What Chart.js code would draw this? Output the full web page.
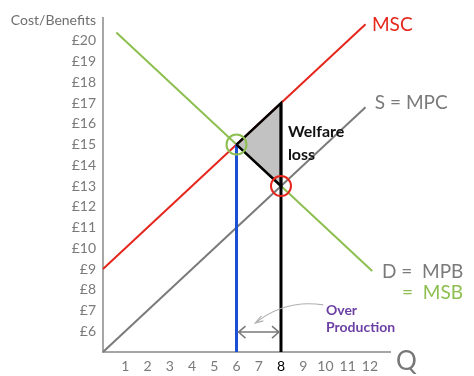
<!DOCTYPE html>
<html>
<head>
<meta charset="utf-8">
<script src="https://cdn.jsdelivr.net/npm/chart.js@4.4.1/dist/chart.umd.min.js"></script>
<style>
  html, body { margin: 0; padding: 0; background: #fff; }
  #wrap { width: 474px; height: 376px; }
</style>
</head>
<body>
<div id="wrap"><canvas id="welfareChart"></canvas></div>
<script>
// --- Data ---
const qTicks = [1, 2, 3, 4, 5, 6, 7, 8, 9, 10, 11, 12]
const priceTicks = [6, 7, 8, 9, 10, 11, 12, 13, 14, 15, 16, 17, 18, 19, 20]

const mscQ = [0, 11.8]
const mscP = [9, 20.8]
const mpcQ = [0, 11.8]
const mpcP = [5, 16.8]
const mpbQ = [0.6, 12.1]
const mpbP = [20.4, 8.9]

const socialQ = 6
const socialP = 15
const marketQ = 8
const marketP = 13
const marketMsc = 17

const lossQ = [6, 8, 8, 6]
const lossP = [15, 17, 13, 15]

const toPoints = (xs, ys) => xs.map((x, i) => ({ x: x, y: ys[i] }))

const FONT = 'Lato, "Open Sans", sans-serif'
const GREY = '#7a7a7a'
const RED = '#e5261d'
const GREEN = '#8cbf4f'
const BLUE = '#1b4fd4'
const PURPLE = '#6c3fa3'

// fill the welfare loss triangle under its outline
const lossFillPlugin = {
  id: 'lossFill',
  beforeDatasetsDraw(chart) {
    const meta = chart.getDatasetMeta(0)
    const pts = meta.data
    const ctx = chart.ctx
    ctx.save()
    ctx.beginPath()
    pts.forEach((p, i) => (i === 0 ? ctx.moveTo(p.x, p.y) : ctx.lineTo(p.x, p.y)))
    ctx.closePath()
    ctx.fillStyle = '#c2c2c2'
    ctx.fill()
    ctx.restore()
  }
}

// text labels and the over production arrows
const labelsPlugin = {
  id: 'diagramLabels',
  afterDraw(chart) {
    const ctx = chart.ctx
    const xs = chart.scales.x
    const ys = chart.scales.y
    const px = (v) => xs.getPixelForValue(v)
    const py = (v) => ys.getPixelForValue(v)
    const area = chart.chartArea

    const text = (str, x, y, color, size, weight, align) => {
      ctx.font = (weight || 'normal') + ' ' + size + 'px ' + FONT
      ctx.fillStyle = color
      ctx.textAlign = align || 'left'
      ctx.textBaseline = 'middle'
      ctx.fillText(str, x, y)
    }

    ctx.save()
    text('Cost/Benefits', area.left - 7, area.top + 2, '#6e6e6e', 14, 'normal', 'right')
    text('Q', area.right + 6, area.bottom + 10, '#777', 26)

    text('MSC', px(12.09), py(20.76), RED, 19)
    text('S = MPC', px(12.22), py(17.0), GREY, 19)
    text('Welfare', px(8.31), py(15.6), '#111', 16, 'bold')
    text('loss', px(8.31), py(14.49), '#111', 16, 'bold')
    text('D =  MPB', px(12.54), py(8.86), GREY, 19)
    text('=  MSB', px(13.44), py(7.84), GREEN, 19)
    text('Over', px(10.02), py(7.02), PURPLE, 14, 'bold')
    text('Production', px(10.02), py(6.2), PURPLE, 14, 'bold')

    // double headed arrow between the two quantities
    const ay = py(5.96)
    const ax1 = px(socialQ) + 2
    const ax2 = px(marketQ) - 2
    ctx.strokeStyle = '#7a7a7a'
    ctx.lineWidth = 1.5
    ctx.beginPath()
    ctx.moveTo(ax1, ay)
    ctx.lineTo(ax2, ay)
    ctx.moveTo(ax1 + 7, ay - 6)
    ctx.lineTo(ax1, ay)
    ctx.lineTo(ax1 + 7, ay + 6)
    ctx.moveTo(ax2 - 7, ay - 6)
    ctx.lineTo(ax2, ay)
    ctx.lineTo(ax2 - 7, ay + 6)
    ctx.stroke()

    // curved pointer from the label
    const sx = px(9.9)
    const sy = py(7.27)
    const ex = px(6.85)
    const ey = py(6.4)
    ctx.strokeStyle = '#b0b0b0'
    ctx.lineWidth = 1.2
    ctx.beginPath()
    ctx.moveTo(sx, sy)
    ctx.quadraticCurveTo(px(8.2), py(7.55), ex, ey)
    ctx.stroke()
    ctx.beginPath()
    ctx.moveTo(ex + 8, ey - 2)
    ctx.lineTo(ex, ey)
    ctx.lineTo(ex + 6, ey - 7)
    ctx.stroke()
    ctx.restore()
  }
}

const lineSet = (data, color, width, order) => ({
  data: data,
  showLine: true,
  borderColor: color,
  borderWidth: width,
  pointRadius: 0,
  fill: false,
  clip: false,
  order: order
})

const circleSet = (x, y, color) => ({
  data: [{ x: x, y: y }],
  showLine: false,
  pointRadius: 10,
  pointBorderWidth: 2,
  pointBorderColor: color,
  pointBackgroundColor: 'rgba(0,0,0,0)',
  clip: false,
  order: 0
})

new Chart(document.getElementById('welfareChart'), {
  type: 'scatter',
  data: {
    datasets: [
      lineSet(toPoints(lossQ, lossP), '#000', 2.5, 1),
      lineSet(toPoints(mscQ, mscP), RED, 2, 5),
      lineSet(toPoints(mpcQ, mpcP), GREY, 2, 5),
      lineSet(toPoints(mpbQ, mpbP), GREEN, 2, 5),
      lineSet(toPoints([socialQ, socialQ], [5, socialP]), BLUE, 3, 2),
      lineSet(toPoints([marketQ, marketQ], [5, marketMsc]), '#000', 3, 2),
      circleSet(socialQ, socialP, GREEN),
      circleSet(marketQ, marketP, RED)
    ]
  },
  options: {
    responsive: true,
    maintainAspectRatio: false,
    animation: false,
    layout: {
      padding: { top: 18, right: 84, left: 0, bottom: 0 }
    },
    plugins: {
      legend: { display: false },
      tooltip: { enabled: false }
    },
    scales: {
      x: {
        type: 'linear',
        min: 0,
        max: 12.9,
        grid: { display: false, drawTicks: false },
        border: { display: true, color: '#a6a6a6', width: 2 },
        afterBuildTicks: (s) => {
          s.ticks = qTicks.map((v) => ({ value: v }))
        },
        afterFit: (s) => {
          s.height = 24
        },
        ticks: {
          padding: 6,
          autoSkip: false,
          maxRotation: 0,
          font: { family: FONT, size: 14 },
          color: (c) => (c.tick && c.tick.value === marketQ ? '#000' : GREY)
        }
      },
      y: {
        type: 'linear',
        min: 5,
        max: 21.1,
        grid: { display: false, drawTicks: false },
        border: { display: true, color: '#a6a6a6', width: 2 },
        afterBuildTicks: (s) => {
          s.ticks = priceTicks.map((v) => ({ value: v }))
        },
        afterFit: (s) => {
          s.width = 103
        },
        ticks: {
          padding: 7,
          autoSkip: false,
          font: { family: FONT, size: 14 },
          color: GREY,
          callback: (v) => '£' + v
        }
      }
    }
  },
  plugins: [lossFillPlugin, labelsPlugin]
})
</script>
</body>
</html>
